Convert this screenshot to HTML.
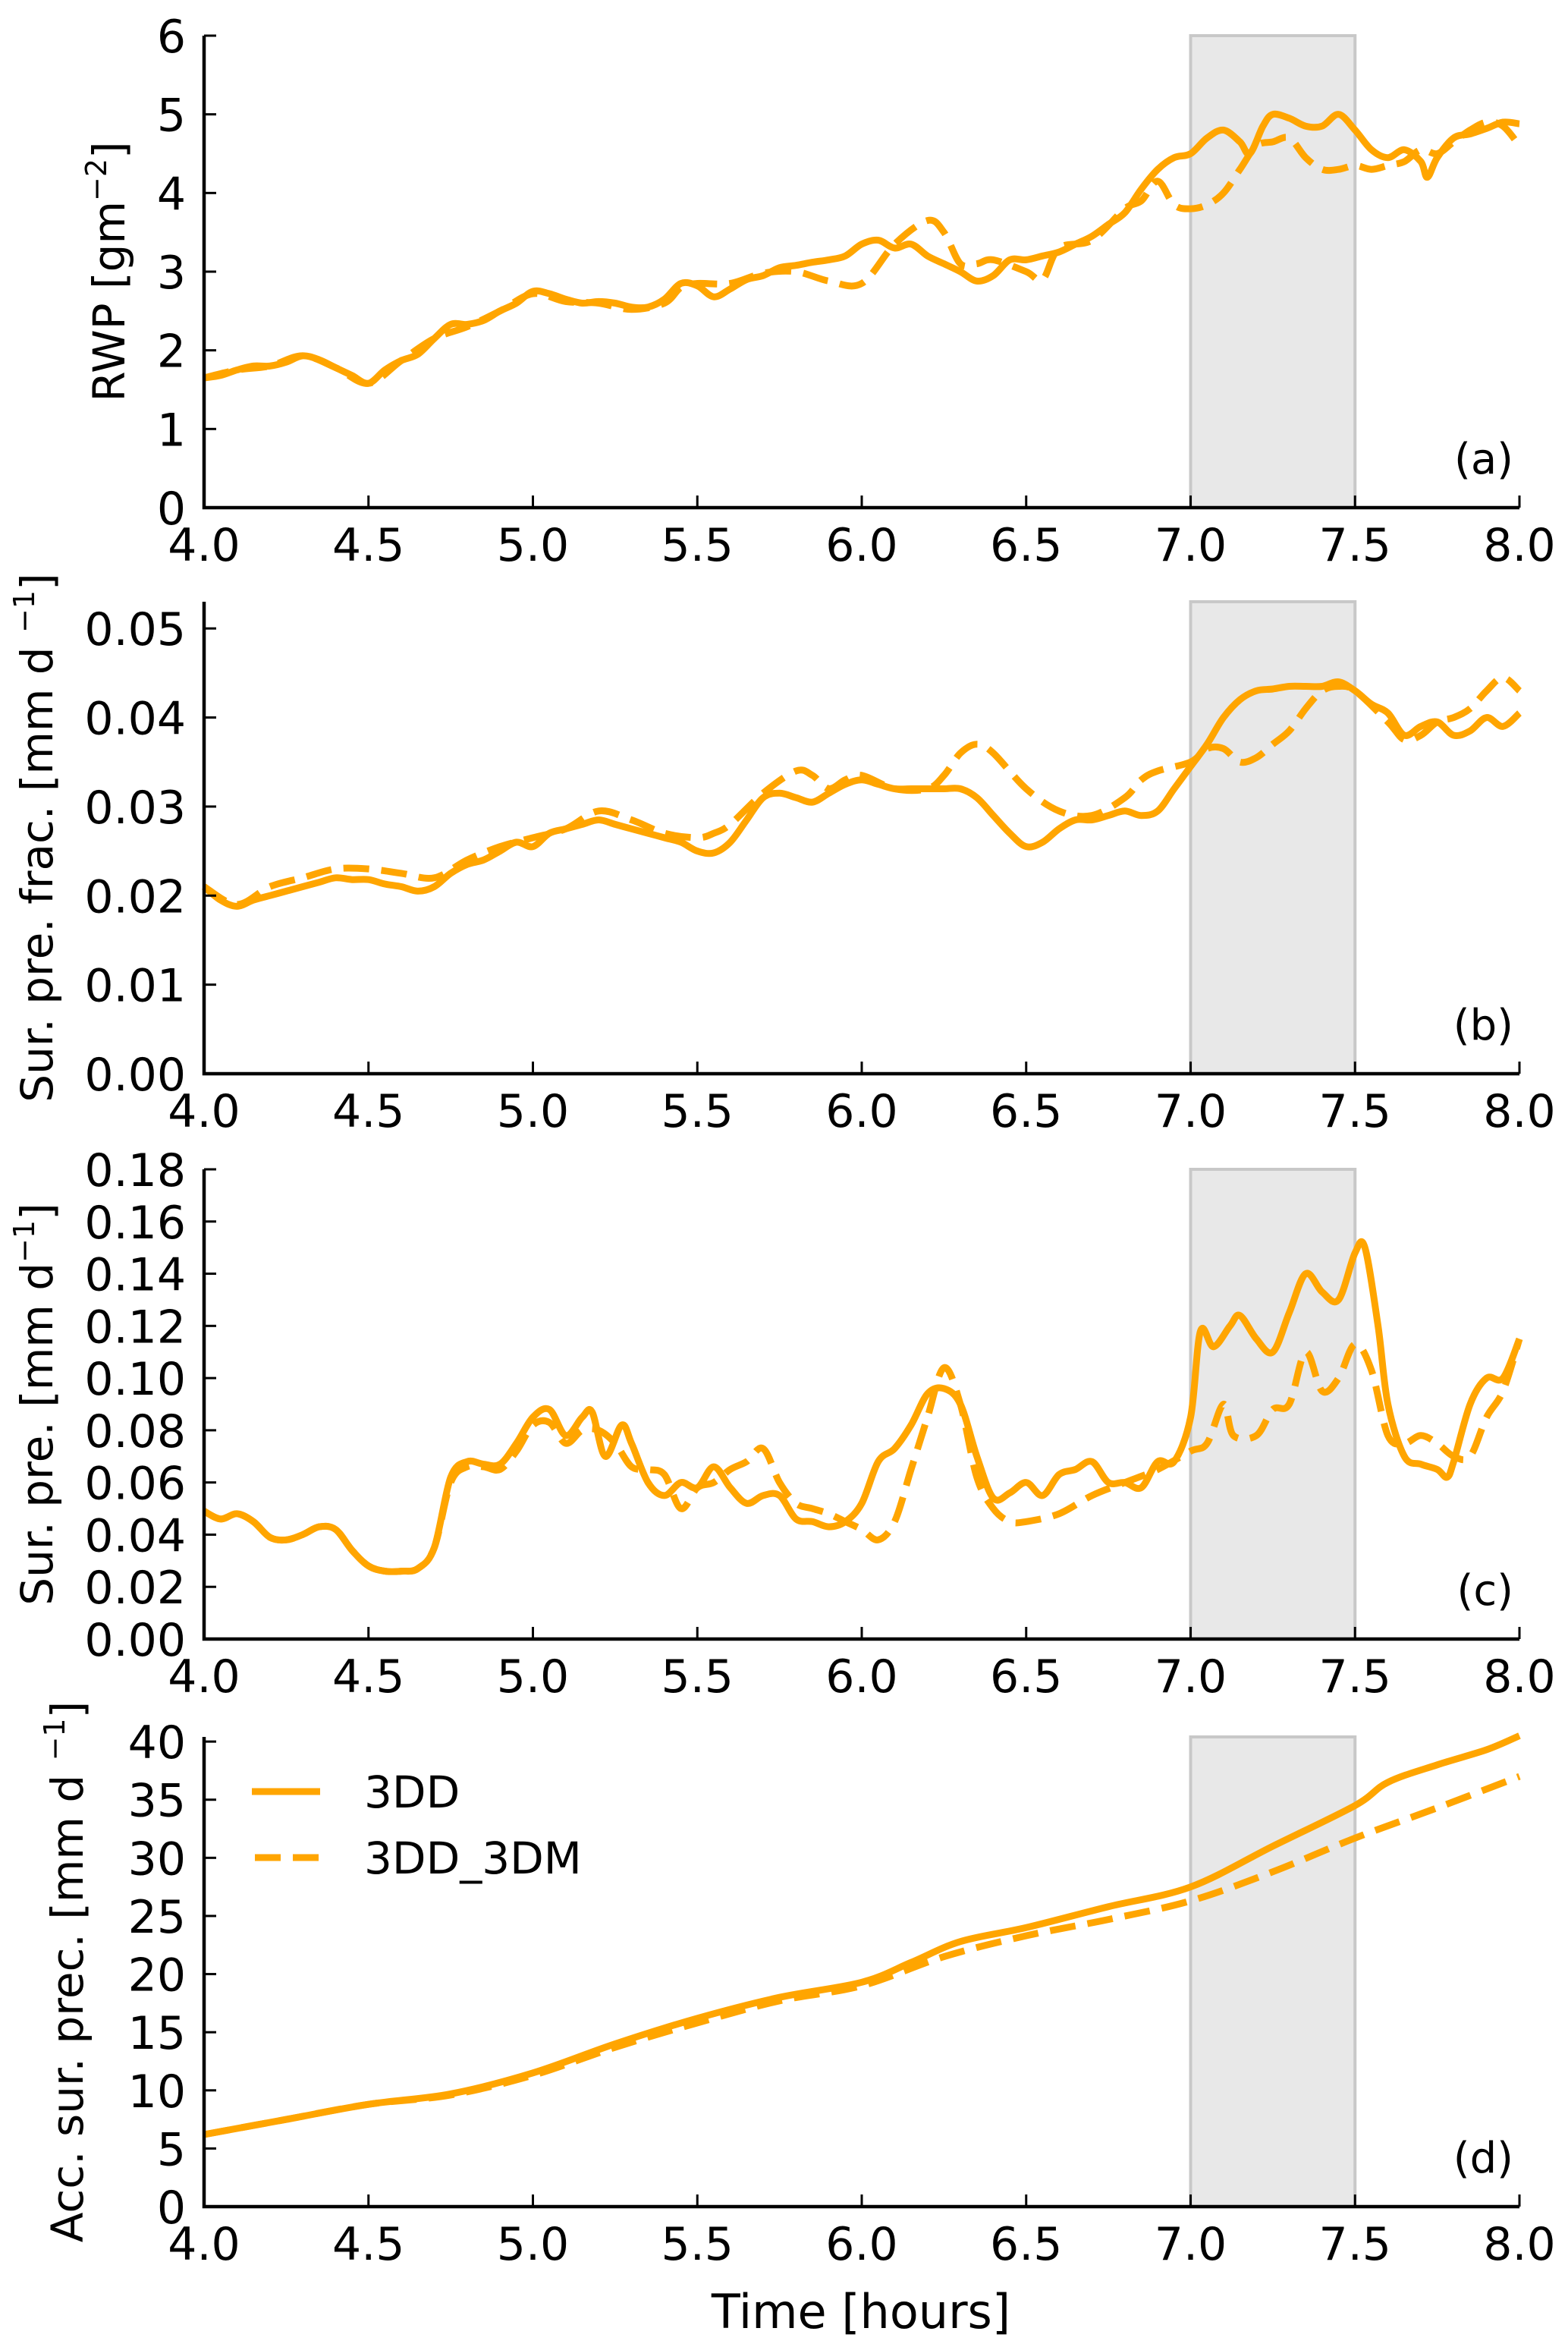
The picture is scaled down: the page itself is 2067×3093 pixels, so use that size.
<!DOCTYPE html>
<html><head><meta charset="utf-8"><style>
html,body{margin:0;padding:0;background:#fff}
svg{display:block}
text{font-family:"DejaVu Sans","Liberation Sans",sans-serif;fill:#000}
</style></head><body>
<svg id="fig" xmlns="http://www.w3.org/2000/svg" width="2067" height="3093" viewBox="0 0 2067 3093"></svg>
<script>
const timesA=[4.0,4.05,4.1,4.15,4.2,4.25,4.3,4.35,4.4,4.45,4.5,4.55,4.6,4.65,4.7,4.75,4.8,4.85,4.9,4.95,5.0,5.05,5.1,5.15,5.2,5.25,5.3,5.35,5.4,5.45,5.5,5.55,5.6,5.65,5.7,5.75,5.8,5.85,5.9,5.95,6.0,6.05,6.1,6.15,6.2,6.25,6.3,6.35,6.4,6.45,6.5,6.55,6.6,6.65,6.7,6.75,6.8,6.85,6.9,6.95,7.0,7.05,7.1,7.15,7.18,7.22,7.25,7.3,7.35,7.4,7.45,7.5,7.55,7.6,7.65,7.7,7.72,7.75,7.8,7.85,7.9,7.95,8.0];
const rwpSolid=[1.65,1.68,1.75,1.8,1.8,1.85,1.93,1.88,1.78,1.68,1.58,1.75,1.87,1.95,2.15,2.33,2.33,2.38,2.5,2.6,2.75,2.72,2.65,2.6,2.62,2.6,2.55,2.55,2.65,2.85,2.82,2.68,2.78,2.9,2.95,3.05,3.08,3.12,3.15,3.2,3.35,3.4,3.3,3.35,3.2,3.1,3.0,2.88,2.95,3.15,3.15,3.2,3.25,3.35,3.45,3.6,3.75,4.05,4.3,4.45,4.5,4.7,4.8,4.65,4.5,4.85,5.0,4.95,4.85,4.85,5.0,4.8,4.55,4.45,4.55,4.4,4.2,4.45,4.7,4.75,4.82,4.9,4.88];
const timesA2=[4.0,4.1,4.2,4.3,4.4,4.5,4.6,4.7,4.8,4.9,5.0,5.1,5.2,5.3,5.4,5.45,5.5,5.6,5.7,5.8,5.9,6.0,6.1,6.2,6.25,6.3,6.35,6.4,6.5,6.55,6.6,6.7,6.8,6.85,6.9,6.95,7.0,7.05,7.1,7.15,7.2,7.25,7.3,7.35,7.4,7.45,7.5,7.55,7.6,7.65,7.7,7.75,7.8,7.85,7.9,7.95,8.0];
const rwpDash=[1.65,1.75,1.8,1.93,1.78,1.58,1.87,2.15,2.3,2.5,2.72,2.62,2.6,2.52,2.6,2.8,2.85,2.85,2.98,3.0,2.88,2.85,3.35,3.65,3.5,3.1,3.1,3.15,3.0,2.9,3.3,3.4,3.8,3.9,4.15,3.85,3.8,3.85,4.0,4.3,4.6,4.65,4.7,4.45,4.3,4.3,4.35,4.3,4.35,4.4,4.55,4.5,4.65,4.8,4.9,4.85,4.6];
const timesB=[4.0,4.05,4.1,4.15,4.2,4.25,4.3,4.35,4.4,4.45,4.5,4.55,4.6,4.65,4.7,4.75,4.8,4.85,4.9,4.95,5.0,5.05,5.1,5.15,5.2,5.25,5.3,5.35,5.4,5.45,5.5,5.55,5.6,5.65,5.7,5.75,5.8,5.85,5.9,5.95,6.0,6.05,6.1,6.15,6.2,6.25,6.3,6.35,6.4,6.45,6.5,6.55,6.6,6.65,6.7,6.75,6.8,6.85,6.9,6.95,7.0,7.05,7.1,7.15,7.2,7.25,7.3,7.35,7.4,7.45,7.5,7.55,7.6,7.65,7.7,7.75,7.8,7.85,7.9,7.95,8.0];
const fracSolid=[0.021,0.0195,0.0188,0.0195,0.02,0.0205,0.021,0.0215,0.022,0.0218,0.0218,0.0213,0.021,0.0205,0.021,0.0225,0.0235,0.024,0.025,0.026,0.0255,0.027,0.0275,0.028,0.0285,0.028,0.0275,0.027,0.0265,0.026,0.025,0.0248,0.026,0.0285,0.031,0.0315,0.031,0.0305,0.0315,0.0325,0.033,0.0325,0.032,0.032,0.032,0.032,0.032,0.031,0.029,0.027,0.0255,0.026,0.0275,0.0285,0.0285,0.029,0.0295,0.029,0.0295,0.032,0.0345,0.037,0.04,0.042,0.043,0.0432,0.0435,0.0435,0.0435,0.044,0.043,0.0415,0.0405,0.038,0.039,0.0395,0.038,0.0385,0.04,0.039,0.0405];
const timesB2=[4.0,4.1,4.2,4.3,4.4,4.5,4.6,4.7,4.8,4.9,5.0,5.1,5.2,5.3,5.4,5.5,5.55,5.6,5.7,5.8,5.85,5.9,5.95,6.0,6.1,6.2,6.25,6.3,6.35,6.4,6.5,6.6,6.7,6.8,6.85,6.9,7.0,7.05,7.1,7.15,7.2,7.25,7.3,7.35,7.4,7.45,7.5,7.6,7.65,7.7,7.75,7.8,7.85,7.9,7.95,8.0];
const fracDash=[0.021,0.019,0.021,0.022,0.023,0.023,0.0225,0.022,0.024,0.0255,0.0265,0.0275,0.0295,0.0285,0.027,0.0265,0.027,0.028,0.0315,0.034,0.0335,0.032,0.033,0.0335,0.032,0.032,0.0335,0.036,0.037,0.036,0.032,0.0295,0.029,0.031,0.033,0.034,0.035,0.0365,0.0365,0.035,0.0355,0.037,0.0385,0.041,0.043,0.0435,0.043,0.0395,0.0375,0.038,0.0395,0.04,0.041,0.043,0.0445,0.043];
const timesC=[4.0,4.05,4.1,4.15,4.2,4.25,4.3,4.35,4.4,4.45,4.5,4.55,4.6,4.65,4.7,4.75,4.8,4.85,4.9,4.95,5.0,5.05,5.1,5.15,5.18,5.22,5.27,5.3,5.35,5.4,5.45,5.5,5.55,5.6,5.65,5.7,5.75,5.8,5.85,5.9,5.95,6.0,6.05,6.1,6.15,6.2,6.25,6.3,6.35,6.4,6.45,6.5,6.55,6.6,6.65,6.7,6.75,6.8,6.85,6.9,6.95,7.0,7.03,7.07,7.12,7.15,7.2,7.25,7.3,7.35,7.4,7.45,7.5,7.53,7.57,7.6,7.65,7.7,7.75,7.78,7.8,7.85,7.9,7.95,8.0];
const precSolid=[0.049,0.046,0.048,0.045,0.039,0.038,0.04,0.043,0.042,0.034,0.028,0.026,0.026,0.027,0.035,0.062,0.068,0.067,0.067,0.075,0.085,0.088,0.078,0.085,0.087,0.07,0.082,0.075,0.06,0.055,0.06,0.058,0.066,0.058,0.052,0.055,0.055,0.046,0.045,0.043,0.045,0.052,0.068,0.073,0.082,0.094,0.096,0.09,0.07,0.054,0.056,0.06,0.055,0.063,0.065,0.068,0.06,0.06,0.058,0.068,0.068,0.085,0.118,0.112,0.12,0.124,0.115,0.11,0.125,0.14,0.133,0.13,0.148,0.15,0.12,0.09,0.07,0.067,0.065,0.062,0.068,0.09,0.1,0.1,0.115];
const timesC2=[4.0,4.05,4.1,4.15,4.2,4.25,4.3,4.35,4.4,4.45,4.5,4.55,4.6,4.65,4.7,4.75,4.8,4.85,4.9,4.95,5.0,5.05,5.1,5.15,5.2,5.25,5.3,5.35,5.4,5.45,5.5,5.55,5.6,5.65,5.7,5.75,5.8,5.85,5.9,5.95,6.0,6.05,6.1,6.15,6.2,6.25,6.3,6.35,6.4,6.45,6.5,6.6,6.7,6.8,6.9,7.0,7.05,7.1,7.13,7.2,7.25,7.3,7.35,7.4,7.45,7.5,7.55,7.6,7.65,7.7,7.75,7.8,7.85,7.9,7.95,8.0];
const precDash=[0.049,0.046,0.048,0.045,0.039,0.038,0.04,0.043,0.042,0.034,0.028,0.026,0.026,0.027,0.035,0.06,0.066,0.066,0.065,0.072,0.082,0.083,0.075,0.08,0.08,0.075,0.066,0.065,0.063,0.05,0.058,0.06,0.065,0.068,0.073,0.06,0.052,0.05,0.048,0.045,0.042,0.038,0.045,0.065,0.085,0.104,0.09,0.062,0.05,0.045,0.045,0.048,0.055,0.06,0.065,0.072,0.075,0.09,0.078,0.078,0.088,0.09,0.11,0.095,0.1,0.113,0.103,0.078,0.075,0.078,0.075,0.07,0.07,0.085,0.095,0.115];
const timesD=[4.0,4.25,4.5,4.75,5.0,5.25,5.5,5.75,6.0,6.15,6.3,6.5,6.75,7.0,7.25,7.5,7.6,7.75,7.9,8.0];
const accSolid=[6.2,7.5,8.8,9.7,11.5,14,16.2,18,19.3,21,22.8,24,25.8,27.5,31,34.5,36.5,38,39.3,40.5];
const timesD2=[4.0,4.25,4.5,4.75,5.0,5.25,5.5,5.75,6.0,6.25,6.5,6.75,7.0,7.25,7.5,7.75,8.0];
const accDash=[6.2,7.5,8.8,9.6,11.3,13.7,15.8,17.7,19,21.5,23.3,24.7,26.3,28.8,31.7,34.3,37];
const xTicks=[4.0,4.5,5.0,5.5,6.0,6.5,7.0,7.5,8.0];
const yTicksA=[0,1,2,3,4,5,6];
const yTicksB=[0.00,0.01,0.02,0.03,0.04,0.05];
const yTicksC=[0.00,0.02,0.04,0.06,0.08,0.10,0.12,0.14,0.16,0.18];
const yTicksD=[0,5,10,15,20,25,30,35,40];
const shadeSpan=[7.0,7.5];

const NS="http://www.w3.org/2000/svg";
const svg=document.getElementById('fig');
const X0=269,X1=2003,XMIN=4,XMAX=8;
function xs(t){return X0+(t-XMIN)/(XMAX-XMIN)*(X1-X0);}
function mk(tag,attrs,parent){const e=document.createElementNS(NS,tag);for(const k in attrs)e.setAttribute(k,attrs[k]);(parent||svg).appendChild(e);return e;}
function smooth(pts){
 let d='M'+pts[0][0].toFixed(1)+' '+pts[0][1].toFixed(1);
 for(let i=0;i<pts.length-1;i++){
  const p0=pts[Math.max(0,i-1)],p1=pts[i],p2=pts[i+1],p3=pts[Math.min(pts.length-1,i+2)];
  const c1=[p1[0]+(p2[0]-p0[0])/6,p1[1]+(p2[1]-p0[1])/6];
  const c2=[p2[0]-(p3[0]-p1[0])/6,p2[1]-(p3[1]-p1[1])/6];
  d+=` C${c1[0].toFixed(1)} ${c1[1].toFixed(1)} ${c2[0].toFixed(1)} ${c2[1].toFixed(1)} ${p2[0].toFixed(1)} ${p2[1].toFixed(1)}`;
 }
 return d;
}
const ORANGE="#ffa500";
const panels=[
 {id:'a',bottom:669,top:47,ymin:0,ymax:6,ticks:yTicksA,dec:0,series:[[timesA,rwpSolid,false],[timesA2,rwpDash,true]],lab:'(a)',ylx:144,ylabel:['RWP [gm','−2',']']},
 {id:'b',bottom:1415,top:793,ymin:0,ymax:0.053,ticks:yTicksB,dec:2,series:[[timesB,fracSolid,false],[timesB2,fracDash,true]],lab:'(b)',ylx:49,ylabel:['Sur. pre. frac. [mm d ','−1',']']},
 {id:'c',bottom:2160,top:1541,ymin:0,ymax:0.18,ticks:yTicksC,dec:2,series:[[timesC,precSolid,false],[timesC2,precDash,true]],lab:'(c)',ylx:49,ylabel:['Sur. pre. [mm d','−1',']']},
 {id:'d',bottom:2908,top:2289,ymin:0,ymax:40.4,ticks:yTicksD,dec:0,series:[[timesD,accSolid,false],[timesD2,accDash,true]],lab:'(d)',ylx:89,ylabel:['Acc. sur. prec. [mm d ','−1',']']}
];
panels.forEach(p=>{
 const g=mk('g',{});
 
 
 const ys=v=>p.bottom-(v-p.ymin)/(p.ymax-p.ymin)*(p.bottom-p.top);
 const sh=mk('rect',{x:xs(shadeSpan[0]),y:p.top,width:xs(shadeSpan[1])-xs(shadeSpan[0]),height:p.bottom-p.top,fill:'#e8e8e8',stroke:'#c8c8c8','stroke-width':4},g);
 
 
 p.series.forEach((s,i)=>{
  const pts=s[0].map((t,j)=>[xs(t),ys(s[1][j])]);
  const path=mk('path',{d:smooth(pts),fill:'none',stroke:ORANGE,'stroke-width':9,'stroke-linejoin':'round'},g);
  if(s[2])path.setAttribute('stroke-dasharray','34 16');
  
  
 });
 const ax=mk('path',{d:`M${X0} ${p.top} L${X0} ${p.bottom} L${X1} ${p.bottom}`,fill:'none',stroke:'#000','stroke-width':4.5},g);
 
 
 xTicks.forEach(t=>{
  mk('line',{x1:xs(t),x2:xs(t),y1:p.bottom,y2:p.bottom-16,stroke:'#000','stroke-width':3},g);
  const tx=mk('text',{x:xs(t),y:p.bottom+70,'text-anchor':'middle','font-size':60},g);
  tx.textContent=t.toFixed(1);
  
  
 });
 p.ticks.forEach(v=>{
  const y=ys(v);
  mk('line',{x1:X0,x2:X0+16,y1:y,y2:y,stroke:'#000','stroke-width':3},g);
  const tx=mk('text',{x:245,y:y+22,'text-anchor':'end','font-size':60},g);
  tx.textContent=v.toFixed(p.dec);
  
  
 });
 const cy=(p.top+p.bottom)/2;
 const yl=mk('text',{x:p.ylx,y:cy,'text-anchor':'middle','font-size':58,transform:`rotate(-90 ${p.ylx} ${cy})`,dy:20},g);
 
 
 const t1=mk('tspan',{},yl);t1.textContent=p.ylabel[0];
 const t2=mk('tspan',{dy:-24,'font-size':38},yl);t2.textContent=p.ylabel[1];
 const t3=mk('tspan',{dy:24},yl);t3.textContent=p.ylabel[2];
 const pl=mk('text',{x:1995,y:p.bottom-45,'text-anchor':'end','font-size':56},g);
 pl.textContent=p.lab;
 
 
});
const xt=mk('text',{x:1135,y:3068,'text-anchor':'middle','font-size':62});
xt.textContent='Time [hours]';


const lg=mk('g',{});


const l1=mk('line',{x1:332,x2:422,y1:2361,y2:2361,stroke:ORANGE,'stroke-width':9},lg);


const lt1=mk('text',{x:480,y:2382,'font-size':58},lg);lt1.textContent='3DD';


const l2=mk('line',{x1:336,x2:422,y1:2448,y2:2448,stroke:ORANGE,'stroke-width':9,'stroke-dasharray':'34 16'},lg);


const lt2=mk('text',{x:480,y:2469,'font-size':58},lg);lt2.textContent='3DD_3DM';


</script>
</body></html>
